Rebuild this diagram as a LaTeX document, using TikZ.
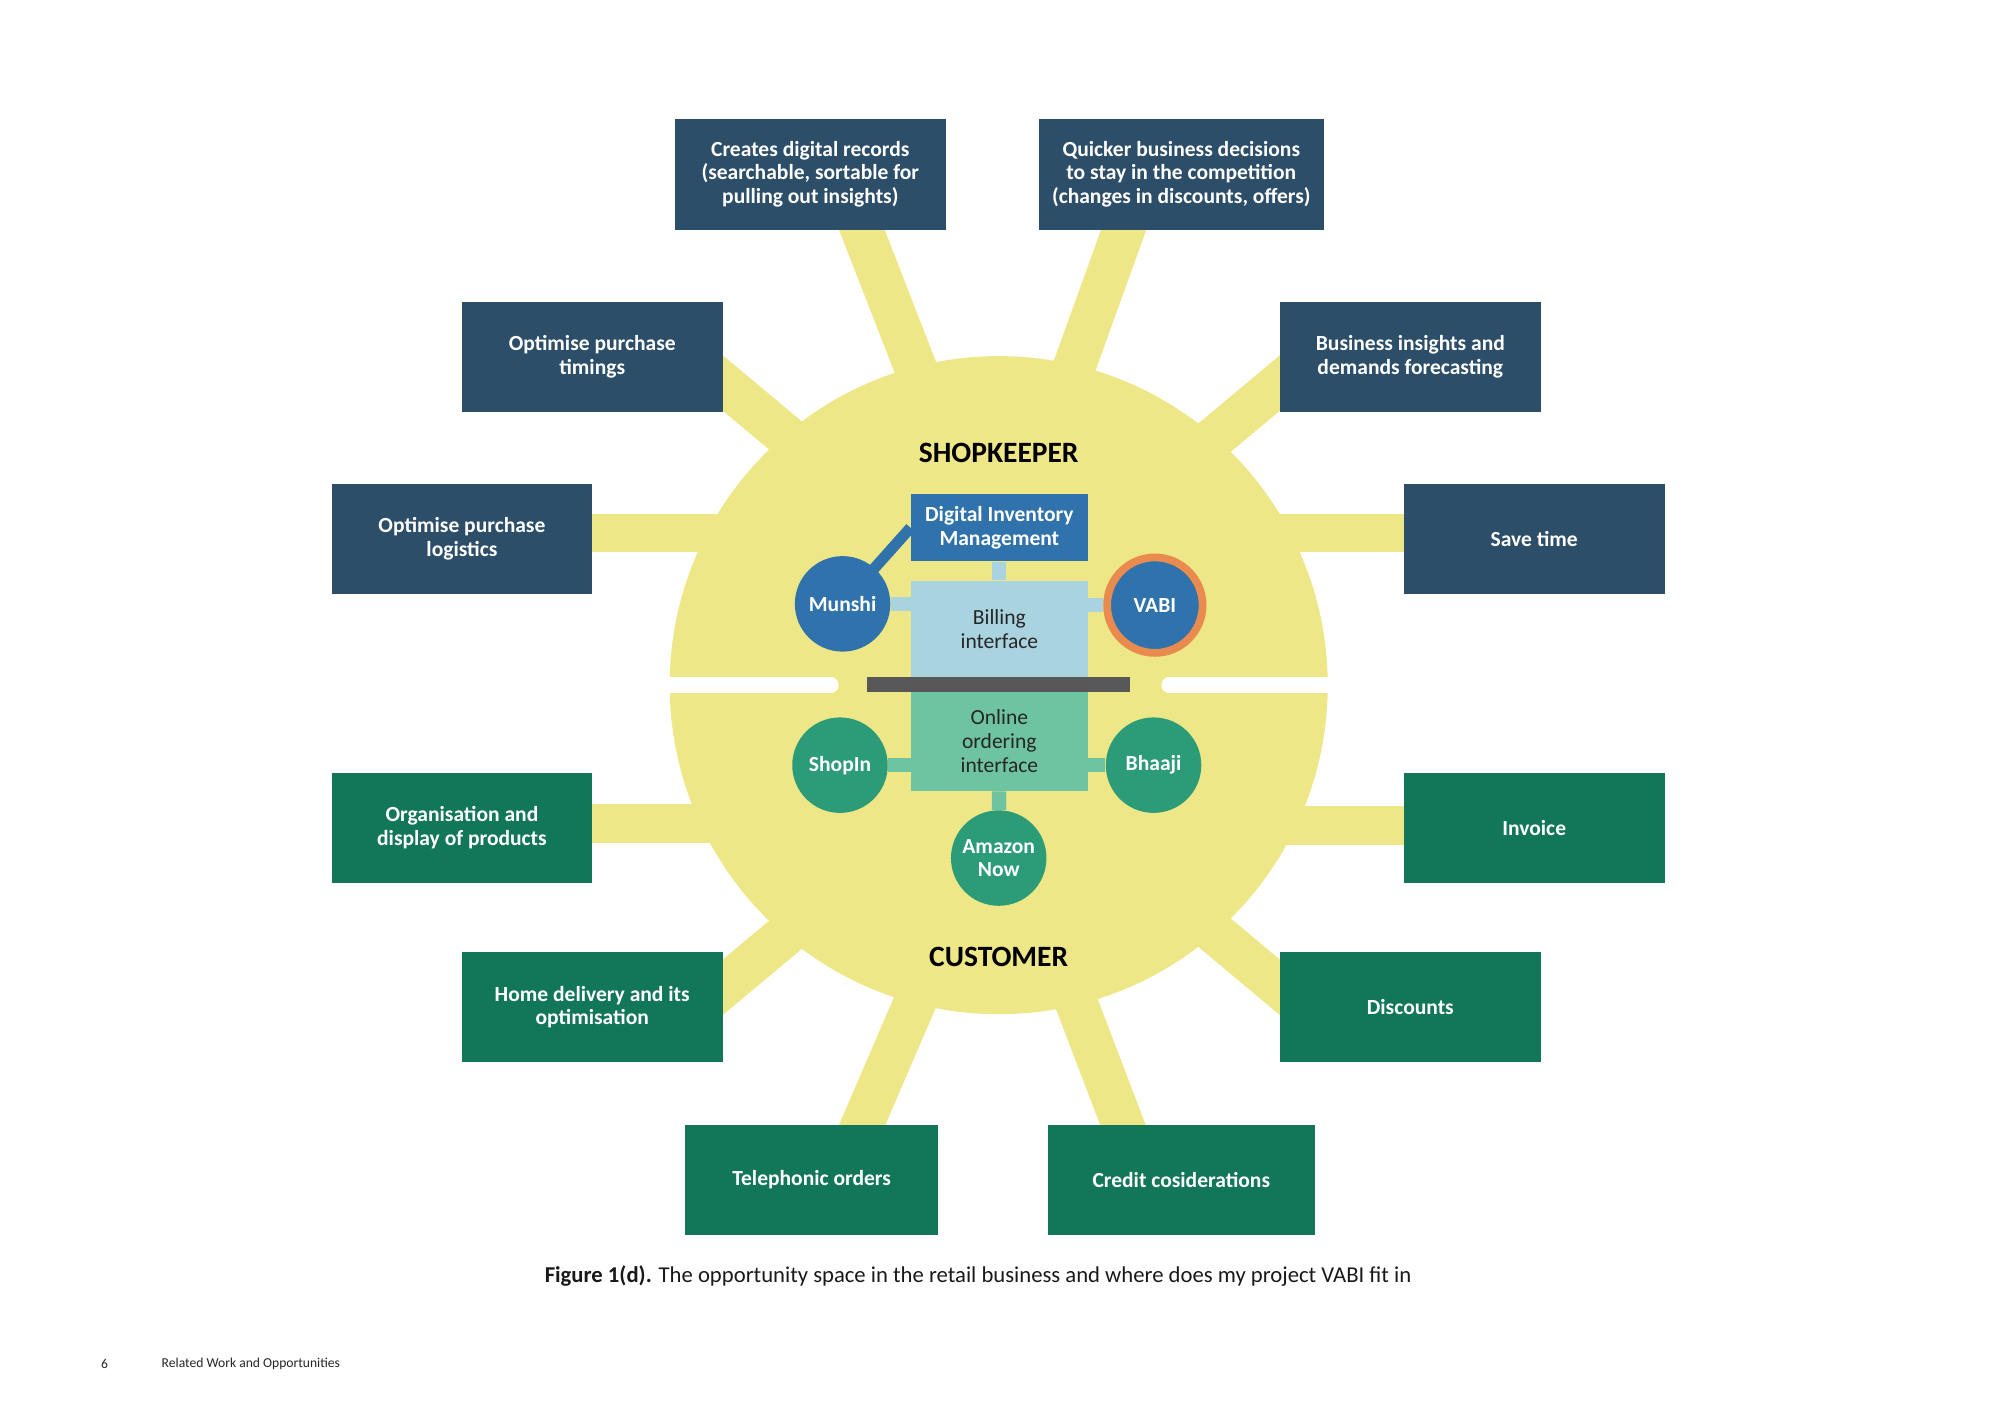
\documentclass[tikz,border=0pt]{standalone}
\usepackage{fontspec}
\setmainfont{Carlito}
\pgfdeclarelayer{back}
\pgfdeclarelayer{mid}
\pgfsetlayers{back,mid,main}
\definecolor{sunyel}{HTML}{EDE787}
\definecolor{navy}{HTML}{2C4E69}
\definecolor{dgreen}{HTML}{127759}
\definecolor{mblue}{HTML}{2F72AC}
\definecolor{lblue}{HTML}{A8D3DF}
\definecolor{mint}{HTML}{6EC3A0}
\definecolor{teal}{HTML}{2B9B78}
\definecolor{orng}{HTML}{E98B4F}
\definecolor{dgray}{HTML}{575757}
\begin{document}
\begin{tikzpicture}[x=0.2mm,y=-0.2mm,
  outbox/.style={rectangle, inner sep=0pt, align=center, text=white,
    font=\bfseries\fontsize{9.5}{10.5}\selectfont, minimum width=40.4mm, minimum height=17mm},
  bluebox/.style={outbox, fill=navy},
  greenbox/.style={outbox, fill=dgreen},
  spoke/.style={sunyel, line width=6.6mm},
  hspoke/.style={sunyel, line width=6mm},
  appc/.style={circle, inner sep=0pt, minimum size=14.8mm, text=white, align=center,
    font=\bfseries\fontsize{9.5}{10.5}\selectfont},
  ibox/.style={rectangle, inner sep=0pt, align=center, minimum width=27.4mm,
    font=\fontsize{9.5}{10.5}\selectfont},
  lbar/.style={lblue, line width=2.2mm},
  mbar/.style={mint, line width=2.2mm}
]
\useasboundingbox (0,0) rectangle (1550,1096);

% outer boxes
\node[bluebox, minimum width=42mm, minimum height=17.2mm] (creates) at (628,135) {Creates digital records\\(searchable, sortable for\\pulling out insights)};
\node[bluebox, minimum width=44.2mm, minimum height=17.2mm] (quicker) at (915.5,135) {Quicker business decisions\\to stay in the competition\\(changes in discounts, offers)};
\node[bluebox] (timings) at (459,276.5) {Optimise purchase\\timings};
\node[bluebox] (insights) at (1093,276.5) {Business insights and\\demands forecasting};
\node[bluebox] (logistics) at (358,417.5) {Optimise purchase\\logistics};
\node[bluebox] (savetime) at (1189,417.5) {Save time};
\node[greenbox] (organise) at (358,641.5) {Organisation and\\display of products};
\node[greenbox] (invoice) at (1189,641.5) {Invoice};
\node[greenbox] (homedel) at (459,780.5) {Home delivery and its\\optimisation};
\node[greenbox] (discounts) at (1093,780.5) {Discounts};
\node[greenbox, minimum width=39.2mm] (phone) at (629,914.5) {Telephonic orders};
\node[greenbox, minimum width=41.4mm] (credit) at (915.5,914.5) {Credit cosiderations};

% centre
\node[font=\bfseries\fontsize{13}{15}\selectfont] (shop) at (774,351) {SHOPKEEPER};
\node[font=\bfseries\fontsize{13}{15}\selectfont] (cust) at (774,742) {CUSTOMER};

\node[ibox, fill=mblue, text=white, font=\bfseries\fontsize{9.5}{10.5}\selectfont, minimum height=10.4mm] (dim) at (774.5,409) {Digital Inventory\\Management};
\node[ibox, fill=lblue, text=black!85, minimum height=15mm] (bill) at (774.5,487.5) {Billing\\interface};
\node[ibox, fill=mint, text=black!85, minimum height=15.4mm] (online) at (774.5,574.5) {Online\\ordering\\interface};
\node[rectangle, fill=dgray, inner sep=0pt, minimum width=40.8mm, minimum height=2.2mm] (divider) at (774,530.5) {};

\node[appc, fill=mblue] (munshi) at (653,468) {Munshi};
\node[appc, fill=mblue, draw=orng, line width=1.2mm] (vabi) at (895,469) {VABI};
\node[appc, fill=teal] (shopin) at (651,593) {ShopIn};
\node[appc, fill=teal] (bhaaji) at (894,593) {Bhaaji};
\node[appc, fill=teal] (amazon) at (774,665) {Amazon\\Now};

% spoke coordinates
\coordinate (s1a) at (657,150);  \coordinate (s1b) at (727,330);
\coordinate (s2a) at (881,150);  \coordinate (s2b) at (816,330);
\coordinate (s3a) at (540,280);  \coordinate (s3b) at (650,372);
\coordinate (s4a) at (1012,280); \coordinate (s4b) at (902,372);
\coordinate (s5a) at (420,413);  \coordinate (s5b) at (600,413);
\coordinate (s6a) at (1130,413); \coordinate (s6b) at (950,413);
\coordinate (s7a) at (420,638);  \coordinate (s7b) at (600,638);
\coordinate (s8a) at (1130,640); \coordinate (s8b) at (950,640);
\coordinate (s9a) at (540,782);  \coordinate (s9b) at (650,690);
\coordinate (s10a) at (1012,782); \coordinate (s10b) at (902,690);
\coordinate (s11a) at (656,900); \coordinate (s11b) at (725,740);
\coordinate (s12a) at (881,900); \coordinate (s12b) at (820,740);
\coordinate (g1a) at (500,531); \coordinate (g1b) at (644,531);
\coordinate (g2a) at (906,531); \coordinate (g2b) at (1050,531);

\begin{pgfonlayer}{back}
  \fill[sunyel] (774,531) circle (51mm);
  \foreach \i in {1,2,3,4,9,10,11,12} \draw[spoke] (s\i a) -- (s\i b);
  \foreach \i in {5,6,7,8} \draw[hspoke] (s\i a) -- (s\i b);
  \draw[white, line width=2.4mm, line cap=round] (g1a) -- (g1b);
  \draw[white, line width=2.4mm, line cap=round] (g2a) -- (g2b);
\end{pgfonlayer}

\begin{pgfonlayer}{mid}
  \draw[mblue, line width=1.7mm] (munshi.center) -- (dim.west);
  \draw[lbar] (dim) -- (bill);
  \draw[lbar] (munshi) -- (munshi -| bill.west);
  \draw[lbar] (vabi) -- (vabi -| bill.east);
  \draw[mbar] (shopin) -- (shopin -| online.west);
  \draw[mbar] (bhaaji) -- (bhaaji -| online.east);
  \draw[mbar] (online) -- (amazon);
\end{pgfonlayer}

% caption and footer
\node[font=\fontsize{10}{12}\selectfont, text=black!90] (caption) at (758,989) {\textbf{Figure 1(d).} The opportunity space in the retail business and where does my project VABI fit in};
\node[font=\fontsize{6}{7}\selectfont, text=black!85] (pagenum) at (81,1057) {6};
\node[font=\fontsize{6}{7}\selectfont, text=black!85, anchor=west, inner sep=0pt] (footer) at (125,1057) {Related Work and Opportunities};
\end{tikzpicture}
\end{document}
